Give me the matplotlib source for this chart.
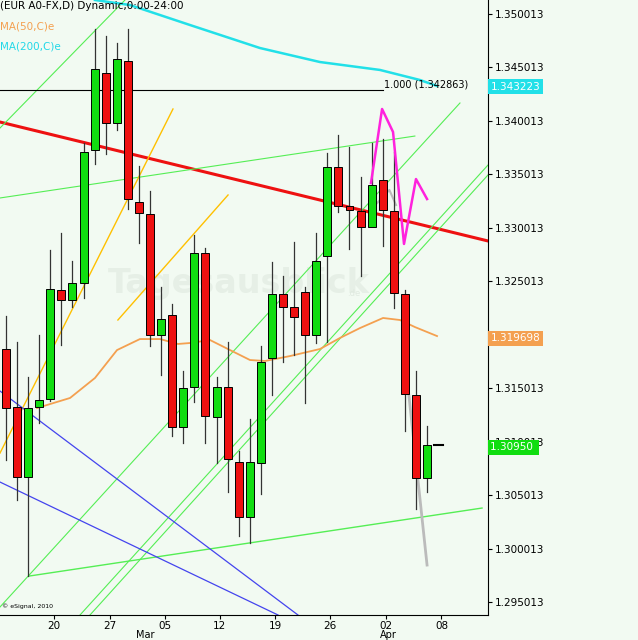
import numpy as np
import matplotlib.pyplot as plt
from matplotlib.patches import Rectangle

# daily candles (open, high, low, close)
opens = [1.31869, 1.31326, 1.30672, 1.31326, 1.31401, 1.32421, 1.32327, 1.32486, 1.33730, 1.34450,
         1.33982, 1.34562, 1.33243, 1.33131, 1.31999, 1.32187, 1.31140, 1.31514, 1.32767, 1.31233,
         1.31514, 1.30812, 1.30298, 1.30803, 1.31785, 1.32383, 1.32262, 1.32400, 1.31999, 1.32741,
         1.33573, 1.33206, 1.33159, 1.33010, 1.33449, 1.33159, 1.32386, 1.31441, 1.30665]
highs = [1.32177, 1.31935, 1.31607, 1.32000, 1.32795, 1.32954, 1.32692, 1.33795, 1.34861, 1.34796,
         1.34730, 1.34861, 1.33580, 1.33346, 1.32449, 1.32290, 1.31663, 1.32935, 1.32813, 1.31607,
         1.31935, 1.30915, 1.31214, 1.31897, 1.32685, 1.32554, 1.32870, 1.32450, 1.32954, 1.33704,
         1.33870, 1.33760, 1.33477, 1.33795, 1.33835, 1.33714, 1.32424, 1.31663, 1.31150]
lows = [1.30831, 1.30457, 1.29746, 1.31177, 1.31380, 1.31907, 1.32262, 1.32346, 1.33599, 1.33692,
        1.33917, 1.33178, 1.32860, 1.31897, 1.31626, 1.31056, 1.30990, 1.31373, 1.30990, 1.30803,
        1.30532, 1.30121, 1.30055, 1.30516, 1.31438, 1.31747, 1.31813, 1.31364, 1.31924, 1.31935,
        1.33150, 1.32804, 1.32551, 1.33272, 1.32833, 1.32250, 1.31104, 1.30373, 1.30532]
closes = [1.31317, 1.30672, 1.31317, 1.31392, 1.32430, 1.32327, 1.32486, 1.33711, 1.34487, 1.33982,
          1.34581, 1.33272, 1.33140, 1.31999, 1.32150, 1.31140, 1.31505, 1.32767, 1.31243, 1.31514,
          1.30840, 1.30298, 1.30812, 1.31747, 1.32383, 1.32262, 1.32168, 1.31999, 1.32692, 1.33573,
          1.33206, 1.33168, 1.33010, 1.33402, 1.33168, 1.32393, 1.31450, 1.30665, 1.30974]

ma200_x = [8.03, 11.19, 16.61, 22.92, 28.34, 33.75, 37.36, 38.9]
ma200_y = [1.35132, 1.35085, 1.34898, 1.34683, 1.34552, 1.34478, 1.34384, 1.34328]
ma50_x = [2.8, 5.78, 8.03, 10.02, 12.09, 13.9, 15.52, 16.61, 18.41, 20.22, 22.02, 23.38, 25.63,
          28.34, 30.14, 31.95, 34.03, 35.56, 36.91, 38.9]
ma50_y = [1.31317, 1.31411, 1.31598, 1.31859, 1.31962, 1.31962, 1.31916, 1.31925, 1.31953, 1.31859,
          1.31766, 1.31757, 1.31803, 1.31869, 1.31972, 1.32065, 1.32159, 1.32140, 1.32074, 1.31990]

# drawn trend lines: ((x0, y0), (x1, y1)), colour, width
trendlines = [
    (((-0.54, 1.33991), (43.5, 1.32879)), '#ee1111', 2.2),
    (((-0.54, 1.29457), (40.97, 1.34169)), '#55ee55', 0.8),
    (((-0.54, 1.33935), (10.74, 1.35132)), '#55ee55', 0.8),
    (((6.68, 1.29382), (43.5, 1.33589)), '#55ee55', 0.8),
    (((7.58, 1.29382), (43.5, 1.33496)), '#55ee55', 0.8),
    (((2.08, 1.29746), (42.96, 1.30382)), '#55ee55', 1.0),
    (((-0.54, 1.33281), (36.9, 1.33860)), '#55ee55', 0.8),
    (((-0.54, 1.30896), (15.07, 1.34113)), '#ffc000', 1.0),
    (((10.1, 1.32140), (20.04, 1.33309)), '#ffc000', 1.0),
    (((-0.54, 1.31476), (26.35, 1.29382)), '#4444ee', 0.9),
    (((-0.54, 1.30625), (24.55, 1.29382)), '#4444ee', 0.9),
    (((-0.54, 1.342863), (34.0, 1.342863)), '#000000', 0.8),
]
mag_x = [32.94, 33.94, 34.93, 35.92, 37.0, 38.0]
mag_y = [1.33421, 1.34113, 1.33898, 1.32851, 1.33458, 1.33271]
gray_x = [33.5, 34.6, 35.2]
gray_y = [1.33234, 1.33356, 1.33215]
gray2_x = [36.28, 38.0]
gray2_y = [1.31514, 1.29849]

yticks = [1.295013 + 0.005 * k for k in range(12)]
xtick_pos = [4.33, 9.4, 14.35, 19.3, 24.3, 29.2, 34.3, 39.3]
xtick_lab = ['20', '27', '05', '12', '19', '26', '02', '08']
months = [(12.6, 'Mar'), (34.5, 'Apr')]

bg = '#f2faf2'
fig = plt.figure(figsize=(6.38, 6.4), dpi=100)
fig.patch.set_facecolor(bg)
ax = fig.add_axes([0, 25 / 640, 488 / 638, 615 / 640])
ax.set_facecolor(bg)
ax.set_xlim(-0.54, 43.5)
ax.set_ylim(1.29382, 1.35132)

ax.text(21, 1.3248, 'Tagesausblick', fontsize=24, fontweight='bold', color='#e6efe6',
        ha='center', va='center', zorder=0)
ax.text(30.8, 1.3236, '.de', fontsize=6, color='#e0eae0', zorder=0)

for (p0, p1), c, w in trendlines:
    ax.plot([p0[0], p1[0]], [p0[1], p1[1]], color=c, lw=w, zorder=1)
ax.plot(ma200_x, ma200_y, color='#22e0e8', lw=1.8, zorder=1)
ax.plot(ma50_x, ma50_y, color='#f4a050', lw=1.3, zorder=1)
ax.plot(gray_x, gray_y, color='#bbbbbb', lw=1.5, zorder=1)
ax.plot(gray2_x, gray2_y, color='#bbbbbb', lw=2, zorder=1)

for i, (o, h, l, c) in enumerate(zip(opens, highs, lows, closes)):
    col = '#11dd11' if c >= o else '#ee1111'
    ax.plot([i, i], [l, h], color='#333333', lw=0.9, zorder=2)
    ax.add_patch(Rectangle((i - 0.36, min(o, c)), 0.72, max(abs(c - o), 0.00012),
                           facecolor=col, edgecolor='black', lw=0.7, zorder=3))
ax.plot([38.6, 39.4], [1.3097, 1.3097], color='black', lw=1.5, zorder=3)
ax.plot(mag_x, mag_y, color='#ff22dd', lw=1.8, zorder=4)

ax.text(34.1, 1.34340, '1.000 (1.342863)', fontsize=7, va='center')
ax.text(0.0, 0.998, '(EUR A0-FX,D) Dynamic,0:00-24:00', transform=ax.transAxes, fontsize=7.5, va='top')
ax.text(0.0, 0.965, 'MA(50,C)e', transform=ax.transAxes, fontsize=7.5, va='top', color='#f4a050')
ax.text(0.0, 0.932, 'MA(200,C)e', transform=ax.transAxes, fontsize=7.5, va='top', color='#22d8e8')
ax.text(0.005, 0.012, '© eSignal, 2010', transform=ax.transAxes, fontsize=4.5)

ax.yaxis.tick_right()
ax.set_yticks(yticks)
ax.set_yticklabels(['%.6f' % t for t in yticks], fontsize=7.5)
ax.tick_params(axis='y', length=3, pad=2)
ax.set_xticks(xtick_pos)
ax.set_xticklabels(xtick_lab, fontsize=7.5)
ax.tick_params(axis='x', length=3, pad=1)
for x, m in months:
    ax.annotate(m, (x, 0), xycoords=('data', 'axes fraction'), xytext=(0, -11),
                textcoords='offset points', fontsize=7, ha='center', va='top')
for s in ['top', 'left']:
    ax.spines[s].set_visible(False)

for price, txt, fc in [(1.343223, '1.343223', '#22e0e8'), (1.319698, '1.319698', '#f4a050'),
                      (1.30950, '1.30950 ', '#11dd11')]:
    ax.text(1.005, price, txt, transform=ax.get_yaxis_transform(), fontsize=7.5, color='white',
            va='center', bbox=dict(boxstyle='square,pad=0.25', fc=fc, ec='none'), zorder=5)

fig.savefig('out.png', dpi=100, facecolor=bg)
